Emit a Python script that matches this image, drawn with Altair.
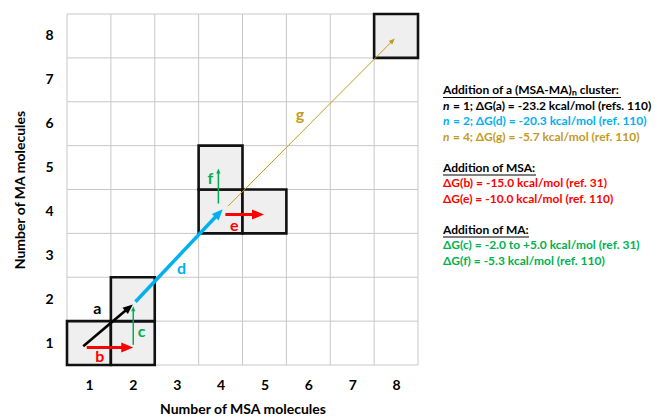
import math
import altair as alt
import pandas as pd

# ---------------- data ----------------
ticks = [1, 2, 3, 4, 5, 6, 7, 8]
grid_pos = [0.5, 1.5, 2.5, 3.5, 4.5, 5.5, 6.5, 7.5, 8.5]

cell_x = [1, 2, 2, 4, 5, 4, 8]
cell_y = [1, 1, 2, 4, 4, 5, 8]

arrow_names = ["g", "a", "b", "c", "d", "e", "f"]
arrow_x0 = [4.17, 0.87, 0.95, 2.01, 2.06, 4.11, 3.95]
arrow_y0 = [4.12, 0.93, 0.90, 0.96, 1.94, 3.93, 4.18]
arrow_x1 = [7.97, 2.00, 2.01, 2.01, 4.05, 4.99, 3.95]
arrow_y1 = [7.94, 1.88, 0.90, 1.84, 4.05, 3.93, 4.98]

label_names = ["a", "b", "c", "d", "e", "f", "g"]
label_x = [1.19, 1.25, 2.20, 3.11, 4.31, 3.77, 5.81]
label_y = [1.78, 0.69, 1.26, 2.68, 3.66, 4.74, 6.19]

legend_lines = [
    "Addition of a (MSA-MA)ₙ cluster:",
    "n = 1; ΔG(a) = -23.2 kcal/mol (refs. 110)",
    "n = 2; ΔG(d) = -20.3 kcal/mol (ref. 110)",
    "n = 4; ΔG(g) = -5.7 kcal/mol (ref. 110)",
    "",
    "Addition of MSA:",
    "ΔG(b) = -15.0 kcal/mol (ref. 31)",
    "ΔG(e) = -10.0 kcal/mol (ref. 110)",
    "",
    "Addition of MA:",
    "ΔG(c) = -2.0 to +5.0 kcal/mol (ref. 31)",
    "ΔG(f) = -5.3 kcal/mol (ref. 110)",
]
legend_keys = ["h", "a", "d", "g", "", "h", "b", "e", "", "h", "c", "f"]

# ---------------- styles ----------------
BLACK, RED, GREEN, BLUE, GOLD = "#000000", "#ff0000", "#00b050", "#00b0f0", "#c49a22"
style_color = {"a": BLACK, "b": RED, "c": GREEN, "d": BLUE, "e": RED, "f": GREEN, "g": GOLD, "h": BLACK}
style_width = {"a": 2.6, "b": 3.0, "c": 1.5, "d": 3.5, "e": 3.0, "f": 1.5, "g": 1.0}
style_head = {"a": 10, "b": 12, "c": 5, "d": 11, "e": 12, "f": 5, "g": 6}  # px length
heading_underline = {0: 178, 5: 93, 9: 86}  # px widths of underlines

W = H = 351
PX_PER_UNIT = W / 8.0
FONT = "Lato"
LEG_X = 376
LEG_TOP = 76
LEG_STEP = 15.5

xs = alt.Scale(domain=[0.5, 8.5], nice=False, zero=False)
ys = alt.Scale(domain=[0.5, 8.5], nice=False, zero=False)
color_scale = alt.Scale(domain=list(style_color.keys()), range=list(style_color.values()))

# arrows table
rows = []
for n, x0, y0, x1, y1 in zip(arrow_names, arrow_x0, arrow_y0, arrow_x1, arrow_y1):
    dx, dy = x1 - x0, y1 - y0
    ln = math.hypot(dx, dy)
    back = style_head[n] * 0.75 / PX_PER_UNIT
    rows.append(dict(
        name=n, x0=x0, y0=y0, x1=x1, y1=y1,
        xs=x1 - dx / ln * back, ys=y1 - dy / ln * back,
        ang=math.degrees(math.atan2(dx, dy)),
        w=style_width[n], hs=(2 * style_head[n]) ** 2,
    ))
arrows = pd.DataFrame(rows)

grid_df = pd.DataFrame({"p": grid_pos})
cells = pd.DataFrame({"cx": cell_x, "cy": cell_y})
labels = pd.DataFrame({"name": label_names, "x": label_x, "y": label_y})
ticks_df = pd.DataFrame({"t": ticks})

# ---------------- layers ----------------
base_axes = alt.Chart(ticks_df).mark_point(opacity=0).encode(
    x=alt.X("t:Q", scale=xs, axis=alt.Axis(values=ticks, grid=False, ticks=False, domain=False,
                                            title="Number of MSA molecules", labelPadding=13,
                                            titlePadding=10)),
    y=alt.Y("t:Q", scale=ys, axis=alt.Axis(values=ticks, grid=False, ticks=False, domain=False,
                                            title="Number of MA molecules", labelPadding=14,
                                            titlePadding=17)),
)

vgrid = alt.Chart(grid_df).mark_rule(color="#c8c8c8", strokeWidth=1).encode(
    x=alt.X("p:Q", scale=xs), y=alt.datum(0.5), y2=alt.datum(8.5))
hgrid = alt.Chart(grid_df).mark_rule(color="#c8c8c8", strokeWidth=1).encode(
    y=alt.Y("p:Q", scale=ys), x=alt.datum(0.5), x2=alt.datum(8.5))

cell_layer = alt.Chart(cells).transform_calculate(
    xa="datum.cx - 0.5", xb="datum.cx + 0.5", ya="datum.cy - 0.5", yb="datum.cy + 0.5"
).mark_rect(fill="#efefef", stroke="#111111", strokeWidth=2.6).encode(
    x=alt.X("xa:Q", scale=xs), x2="xb:Q", y=alt.Y("ya:Q", scale=ys), y2="yb:Q")

shafts = alt.Chart(arrows).mark_rule(strokeCap="butt").encode(
    x=alt.X("x0:Q", scale=xs), y=alt.Y("y0:Q", scale=ys), x2="xs:Q", y2="ys:Q",
    color=alt.Color("name:N", scale=color_scale, legend=None),
    strokeWidth=alt.StrokeWidth("w:Q", scale=None),
)

heads = alt.Chart(arrows).mark_point(
    shape="M0,0 L-0.42,1 L0.42,1 Z", filled=True, opacity=1, strokeWidth=0
).encode(
    x=alt.X("x1:Q", scale=xs), y=alt.Y("y1:Q", scale=ys),
    color=alt.Color("name:N", scale=color_scale, legend=None),
    angle=alt.Angle("ang:Q", scale=None),
    size=alt.Size("hs:Q", scale=None),
)

label_layer = alt.Chart(labels).mark_text(
    font=FONT, fontWeight="bold", fontSize=16, align="center", baseline="middle"
).encode(
    x=alt.X("x:Q", scale=xs), y=alt.Y("y:Q", scale=ys), text="name:N",
    color=alt.Color("name:N", scale=color_scale, legend=None),
)

# legend text on the right (pixel layout relative to plot area)
leg_rows, ital_rows, ul_rows = [], [], []
for i, (txt, key) in enumerate(zip(legend_lines, legend_keys)):
    if not txt:
        continue
    py = LEG_TOP + i * LEG_STEP
    if txt.startswith("n "):
        ital_rows.append(dict(txt="n", key=key, py=py))
        leg_rows.append(dict(txt=txt[2:], key=key, py=py, px=LEG_X + 10))
    else:
        leg_rows.append(dict(txt=txt, key=key, py=py, px=LEG_X))
    if i in heading_underline:
        ul_rows.append(dict(py=py + 7.5, px=LEG_X, px2=LEG_X + heading_underline[i]))
leg_df = pd.DataFrame(leg_rows)
ital_df = pd.DataFrame(ital_rows)
ul_df = pd.DataFrame(ul_rows)

legend_layer = alt.Chart(leg_df).mark_text(
    font=FONT, fontWeight="bold", fontSize=12, align="left", baseline="middle"
).encode(
    x=alt.X("px:Q", scale=None, axis=None),
    y=alt.Y("py:Q", scale=None, axis=None),
    text="txt:N",
    color=alt.Color("key:N", scale=color_scale, legend=None),
)
ital_layer = alt.Chart(ital_df).mark_text(
    font=FONT, fontWeight="bold", fontStyle="italic", fontSize=12, align="left", baseline="middle"
).encode(
    x=alt.value(LEG_X),
    y=alt.Y("py:Q", scale=None, axis=None),
    text="txt:N",
    color=alt.Color("key:N", scale=color_scale, legend=None),
)
ul_layer = alt.Chart(ul_df).mark_rule(color="#000000", strokeWidth=1).encode(
    x=alt.X("px:Q", scale=None, axis=None), x2="px2:Q",
    y=alt.Y("py:Q", scale=None, axis=None),
)

chart = alt.layer(
    vgrid, hgrid, cell_layer, base_axes, shafts, heads, label_layer,
    legend_layer, ital_layer, ul_layer
).properties(
    width=W, height=H,
    autosize=alt.AutoSizeParams(type="none"),
    padding={"left": 67, "top": 14, "right": 237, "bottom": 51},
).configure_view(stroke=None).configure_axis(
    labelFont=FONT, titleFont=FONT, labelFontWeight="bold", titleFontWeight="bold",
    labelFontSize=14, titleFontSize=14, labelColor="#000", titleColor="#000",
)

chart.save("out.html", embed_options={"renderer": "svg", "actions": False})
